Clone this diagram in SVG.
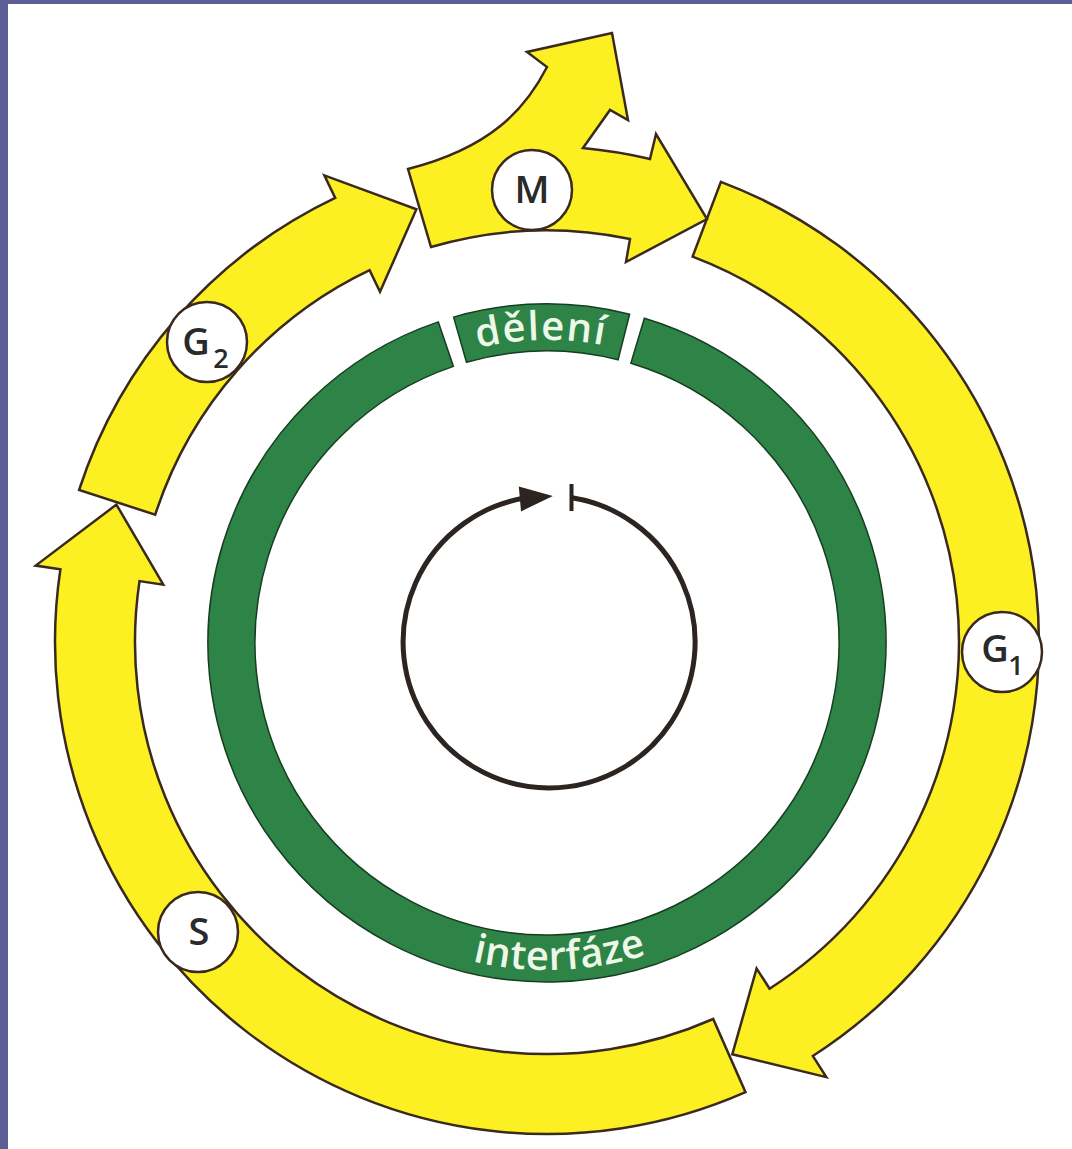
<svg xmlns="http://www.w3.org/2000/svg" width="1072" height="1149" viewBox="0 0 1072 1149">
<style>
.yel{fill:#fdf022;stroke:#3a2a1e;stroke-width:2.5;stroke-linejoin:miter}
.grn{fill:#2d8446;stroke:#173d22;stroke-width:1.5}
.lblc{fill:#ffffff;stroke:#3a2a1e;stroke-width:2.5}
.lblt{font-family:"Open Sans","Liberation Sans",sans-serif;font-weight:600;font-size:38px;fill:#2a2a2a}
.ringt{font-family:"Open Sans","Liberation Sans",sans-serif;font-weight:600;fill:#eef8e8}
.cyc{fill:none;stroke:#2b2420;stroke-width:5}
</style>
<defs>
<path id="pDel" d="M 390.5,383.5 A 303 303 0 0 1 693.4,377.7"/>
<path id="pInt" d="M 395,932.5 A 327 327 0 0 0 721.7,919.4"/>
</defs>
<rect x="0" y="0" width="1072" height="1149" fill="#ffffff"/>
<rect x="0" y="0" width="8" height="1149" fill="#5d5e96"/>
<rect x="0" y="0" width="1072" height="4" fill="#5d5e96"/>

<g id="ring-interfaze">
<path class="grn" d="M 644.4,318.3 A 339 339 0 1 1 438.3,321.9 L 453.4,366.4 A 292 292 0 1 0 630.9,363.3 Z"/>
<text class="ringt" font-size="40" letter-spacing="0.5"><textPath href="#pInt" startOffset="50%" text-anchor="middle">interfáze</textPath></text>
</g>
<g id="ring-deleni">
<path class="grn" d="M 453.6,317.1 A 339 339 0 0 1 629.6,314.2 L 618.1,359.8 A 292 292 0 0 0 466.5,362.3 Z"/>
<text class="ringt" font-size="40" letter-spacing="1.5"><textPath href="#pDel" startOffset="50%" text-anchor="middle">dělení</textPath></text>
</g>

<g id="phase-G1">
<path class="yel" d="M 720.9,181.8 A 492 492 0 0 1 812.8,1056.0 L 826.3,1077.1 L 732.3,1054.3 L 756.6,968.5 L 769.6,988.7 A 412 412 0 0 0 692.6,256.6 Z"/>
<circle class="lblc" cx="1002" cy="652" r="40"/>
<text class="lblt"><tspan x="995" y="662" text-anchor="middle">G</tspan><tspan x="1016" y="675" font-size="27" text-anchor="middle">1</tspan></text>
</g>
<g id="phase-S">
<path class="yel" d="M 713.2,1019.0 A 412 412 0 0 1 139.5,581.1 L 163.3,584.7 L 116.4,504.6 L 35.7,565.6 L 60.4,569.3 A 492 492 0 0 0 745.5,1092.2 Z"/>
<circle class="lblc" cx="198" cy="932" r="40"/>
<text class="lblt" x="199" y="945" text-anchor="middle">S</text>
</g>
<g id="phase-G2">
<path class="yel" d="M 155.2,514.7 A 412 412 0 0 1 369.6,270.1 L 380.0,291.8 L 416.4,209.3 L 324.4,175.4 L 335.2,197.9 A 492 492 0 0 0 79.1,490.0 Z"/>
<circle class="lblc" cx="207" cy="342" r="40"/>
<text class="lblt"><tspan x="196" y="355" text-anchor="middle">G</tspan><tspan x="221" y="368" font-size="27" text-anchor="middle">2</tspan></text>
</g>
<g id="phase-M">
<path class="yel" d="M 408,169 C 490,148 525,110 547,67 L 527,52 L 612,33 L 628,120 L 610,110 L 583,148 A 492 492 0 0 1 650,159 L 656,134 L 707,219 L 626,262 L 630,239 A 412 412 0 0 0 431,247 Z"/>
<circle class="lblc" cx="532" cy="190" r="40"/>
<text class="lblt" x="532" y="203" text-anchor="middle">M</text>
</g>

<g id="connectors">
<path class="cyc" d="M 572,497.8 A 146 146 0 1 1 526.2,497.8"/>
<polygon points="552.8,496 518.8,486.4 521,511.4" fill="#2b2420"/>
<line x1="571.5" y1="484" x2="571.5" y2="511" stroke="#2b2420" stroke-width="4"/>
</g>
</svg>
